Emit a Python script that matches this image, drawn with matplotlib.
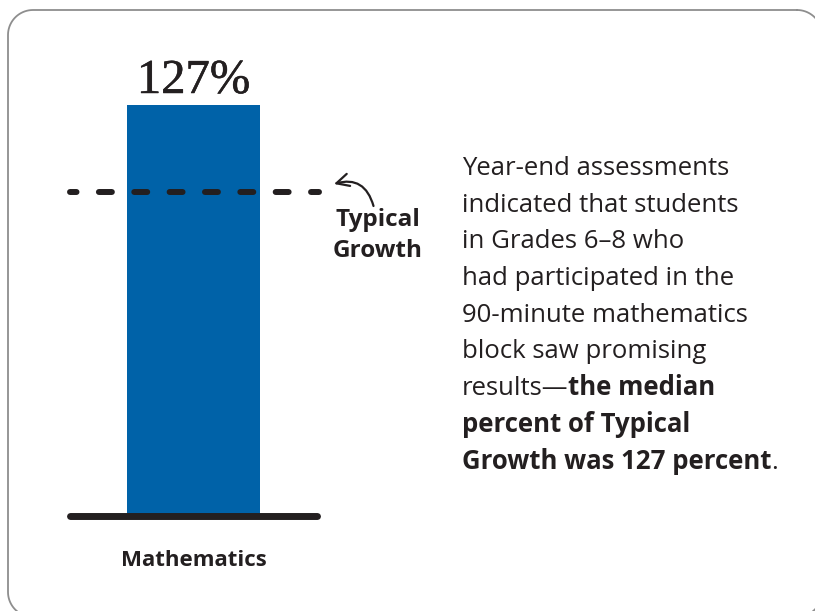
import numpy as np
import matplotlib.pyplot as plt
import matplotlib.patheffects as pe
from matplotlib.lines import Line2D

plt.rcParams["savefig.bbox"] = "standard"

# data
subjects = ["Mathematics"]
values = [127]
value_labels = ["127%"]
typical_growth = 100

paragraph = [
    [("Year-end assessments", "normal")],
    [("indicated that students", "normal")],
    [("in Grades 6\u20138 who", "normal")],
    [("had participated in the", "normal")],
    [("90-minute mathematics", "normal")],
    [("block saw promising", "normal")],
    [("results\u2014", "normal"), ("the median", "bold")],
    [("percent of Typical", "bold")],
    [("Growth was 127 percent", "bold"), (".", "normal")],
]

BLUE = "#0062a8"
INK = "#231f20"
SANS = "Open Sans"

W, H = 815, 611
fig = plt.figure(figsize=(W / 100, H / 100), dpi=100)


def fx(x):
    return x / W


def fy(y):
    return 1 - y / H


# rounded frame as a polyline (runs off the right and bottom edges)
def rounded_rect(x0, y0, x1, y1, r, n=20):
    xs, ys = [], []
    corners = [(x1 - r, y0 + r, -90, 0), (x1 - r, y1 - r, 0, 90),
               (x0 + r, y1 - r, 90, 180), (x0 + r, y0 + r, 180, 270)]
    for cx, cy, a0, a1 in corners:
        t = np.radians(np.linspace(a0, a1, n))
        xs.extend(cx + r * np.cos(t))
        ys.extend(cy + r * np.sin(t))
    xs.append(xs[0])
    ys.append(ys[0])
    return np.array(xs), np.array(ys)


bx, by = rounded_rect(8, 10, 822, 617, 25)
fig.add_artist(Line2D(fx(bx), fy(by), color="#8e8e8e", lw=1.3,
                      transform=fig.transFigure))

ax = fig.add_axes([fx(60), fy(516), fx(327) - fx(60), fy(40) - fy(516)])
ax.set_xlim(-1, 1)
ax.set_ylim(0, 147)
for s in ax.spines.values():
    s.set_visible(False)
ax.set_yticks([])

bars = ax.bar(range(len(subjects)), values, width=1.0, color=BLUE, zorder=1)
ax.set_xticks(range(len(subjects)))
ax.set_xticklabels(subjects, fontsize=16, fontweight="bold", family=SANS, color=INK)
ax.tick_params(axis="x", length=0, pad=24.5)

# baseline
ax.plot([-0.925, 0.925], [0, 0], lw=5, color=INK, solid_capstyle="round",
        clip_on=False, zorder=3)

# typical growth dashed line
ax.plot([-0.925, 0.94], [typical_growth, typical_growth], lw=4.3, color=INK,
        linestyle=(1.08, (2.17, 3.75)), dash_capstyle="round",
        clip_on=False, zorder=3)

for i, (v, lab) in enumerate(zip(values, value_labels)):
    ax.annotate(lab, xy=(i, v), xytext=(0, 8.5), textcoords="offset points",
                ha="center", va="baseline", fontsize=35,
                family="Liberation Serif", color=INK,
                path_effects=[pe.withStroke(linewidth=0.4, foreground=INK)])

# arrow + label for typical growth
ax.annotate("", xy=(334, H - 184), xycoords="figure pixels",
            xytext=(373.5, H - 206), textcoords="figure pixels",
            arrowprops=dict(arrowstyle="->,head_length=0.9,head_width=0.45",
                            mutation_scale=10, lw=1.6, color=INK,
                            shrinkA=0, shrinkB=0,
                            connectionstyle="arc3,rad=0.5"))
fig.text(fx(378), fy(226), "Typical", ha="center", va="baseline",
         fontsize=17.5, fontweight="bold", family=SANS, color=INK)
fig.text(fx(378), fy(257), "Growth", ha="center", va="baseline",
         fontsize=17.5, fontweight="bold", family=SANS, color=INK)

# paragraph
for i, line in enumerate(paragraph):
    y = 175 + i * 36.7
    prev = None
    for text, weight in line:
        if prev is None:
            prev = fig.text(fx(462), fy(y), text, ha="left", va="baseline",
                            fontsize=18.5, fontweight=weight, family=SANS, color=INK)
        else:
            prev = ax.annotate(text, xy=(1, 0), xycoords=prev, ha="left",
                               va="bottom", fontsize=18.5, fontweight=weight,
                               family=SANS, color=INK, annotation_clip=False)

fig.savefig("out.png", dpi=100)
